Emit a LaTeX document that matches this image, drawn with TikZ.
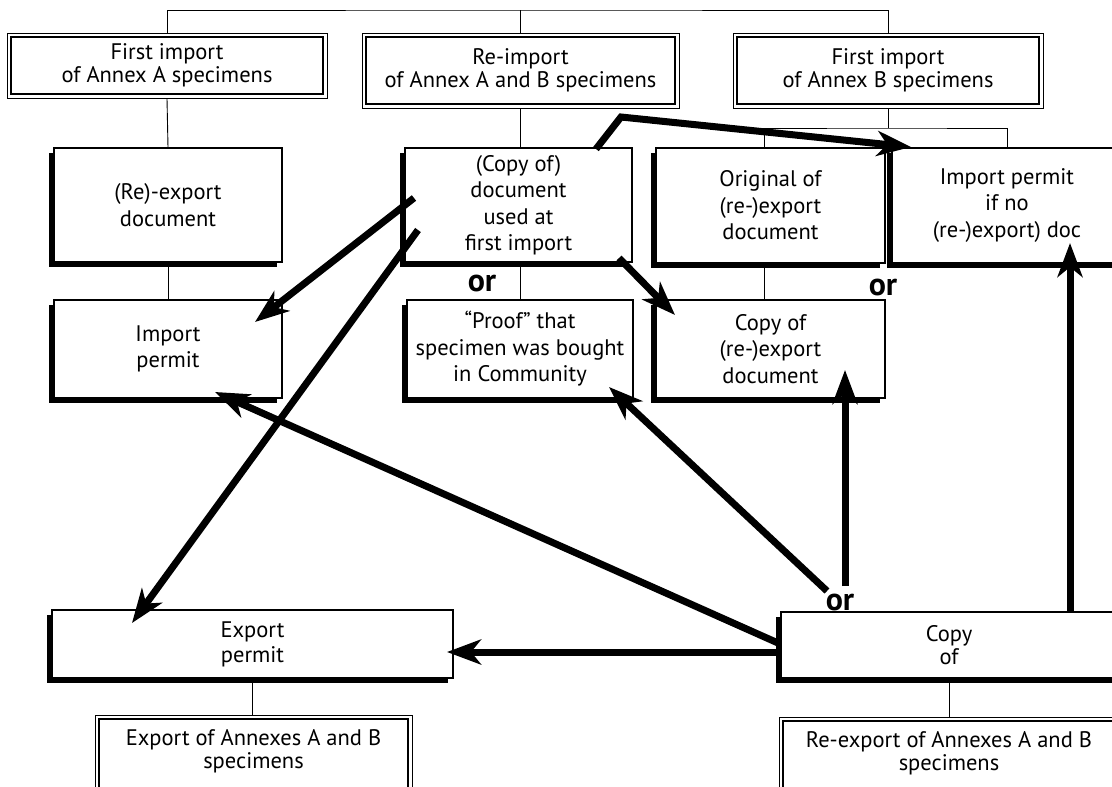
\documentclass[tikz,border=0pt]{standalone}
\usepackage{fontspec}
\setmainfont{PT Sans}
\usetikzlibrary{arrows.meta}
\begin{document}
\begin{tikzpicture}[x=1pt,y=-1pt,
  conn/.style={line width=0.9pt},
  frame/.style={draw, line width=0.8pt, fill=white, inner sep=0pt, align=center,
     font=\fontsize{22.5}{23}\selectfont,
     path picture={\draw[line width=1.8pt]
       ([xshift=4pt,yshift=4pt]path picture bounding box.south west) rectangle
       ([xshift=-4pt,yshift=-4pt]path picture bounding box.north east);}},
  sbox/.style={draw, line width=1.3pt, fill=white, inner sep=0pt, align=center,
     font=\fontsize{22.5}{26.5}\selectfont,
     preaction={fill=black, transform canvas={xshift=-5pt,yshift=-5pt}}},
  orlab/.style={font=\fontsize{32}{32}\selectfont\bfseries, inner sep=0pt},
  arr/.style={line width=7pt, -{Stealth[length=34pt,width=25pt,inset=10pt]}}
]
\useasboundingbox[fill=white] (0,0) rectangle (1112,787);

% top row
\node[frame, minimum width=320pt, minimum height=65pt] (a1) at (167,65.5) {First import\\of Annex A specimens};
\node[frame, minimum width=317pt, minimum height=75pt] (a2) at (520.5,70.5) {Re-import\\of Annex A and B specimens};
\node[frame, minimum width=310pt, minimum height=75pt] (a3) at (888,70.5) {First import\\of Annex B specimens};

% middle rows
\node[sbox, minimum width=228pt, minimum height=114pt] (reexp) at (168,205) {(Re)-export\\document};
\node[sbox, minimum width=228pt, minimum height=98pt] (impp) at (168,349) {Import\\permit};
\node[sbox, minimum width=227pt, minimum height=114pt] (copy1) at (518.5,205) {(Copy of)\\document\\used at\\first import};
\node[sbox, minimum width=226pt, minimum height=98pt] (proof) at (520,349) {“Proof” that\\specimen was bought\\in Community};
\node[sbox, minimum width=229pt, minimum height=115pt] (orig) at (770.5,205.5) {Original of\\(re-)export\\document};
\node[sbox, minimum width=230pt, minimum height=115pt] (impno) at (1007,205.5) {Import permit\\if no\\(re-)export) doc};
\node[sbox, minimum width=229pt, minimum height=98pt] (copyre) at (770.5,349) {Copy of\\(re-)export\\document};

% bottom
\node[sbox, minimum width=401pt, minimum height=68pt, font=\fontsize{22.5}{25}\selectfont] (expp) at (252.5,644) {Export\\permit};
\node[sbox, minimum width=336pt, minimum height=66pt, font=\fontsize{22.5}{23}\selectfont] (copy2) at (949,645) {Copy\\of};
\node[frame, minimum width=317pt, minimum height=90pt] (expa) at (253.5,760) {Export of Annexes A and B\\specimens\\\mbox{}};
\node[frame, minimum width=340pt, minimum height=90pt] (reexpa) at (949,762) {Re-export of Annexes A and B\\specimens\\\mbox{}};

% or labels
\node[orlab] (or1) at (482,283) {or};
\node[orlab] (or2) at (883,287) {or};
\node[orlab] (or3) at (840,602) {or};

% tree connectors
\coordinate (top) at (520,10);
\coordinate (hb) at (888,128);
\draw[conn] (a1.north) |- (top) -| (a3.north);
\draw[conn] (a2.north) -- (a2.north |- top);
\draw[conn] (a1.south) -- (reexp.north);
\draw[conn] (reexp.south) -- (impp.north);
\draw[conn] (a2.south) -- (copy1.north -| a2.south);
\draw[conn] (copy1.south -| proof.north) -- (proof.north);
\draw[conn] (a3.south) -- (hb);
\draw[conn] ([xshift=-6pt]orig.north) |- (hb) -| (impno.north);
\draw[conn] ([xshift=-6pt]orig.south) -- ([xshift=-6pt]copyre.north);
\draw[conn] (expp.south) -- (expa.north -| expp.south);
\draw[conn] (copy2.south) -- (reexpa.north);

% arrows
\coordinate (t1s) at (596,149);
\coordinate (t1b) at (621,117);
\coordinate (t1e) at (911,147);
\coordinate (a2s) at (414,198);
\coordinate (a2e) at (255,322);
\coordinate (a3s) at (418,230);
\coordinate (a3e) at (132,623);
\coordinate (a4s) at (619,258);
\coordinate (a4e) at (675,315);
\coordinate (b1s) at (781,652);
\coordinate (b1e) at (447,652);
\coordinate (b2s) at (778,643);
\coordinate (b2e) at (215,392);
\coordinate (b3s) at (827,591);
\coordinate (b3e) at (609,387);
\coordinate (b4s) at (845,586);
\coordinate (b4e) at (845,370);
\coordinate (b5s) at (1070,612);
\coordinate (b5e) at (1070,243);

\draw[arr] (t1s) -- (t1b) -- (t1e);
\draw[arr] (a2s) -- (a2e);
\draw[arr] (a3s) -- (a3e);
\draw[arr] (a4s) -- (a4e);
\draw[arr] (b1s) -- (b1e);
\draw[arr] (b2s) -- (b2e);
\draw[arr] (b3s) -- (b3e);
\draw[arr] (b4s) -- (b4e);
\draw[arr] (b5s) -- (b5e);
\end{tikzpicture}
\end{document}
